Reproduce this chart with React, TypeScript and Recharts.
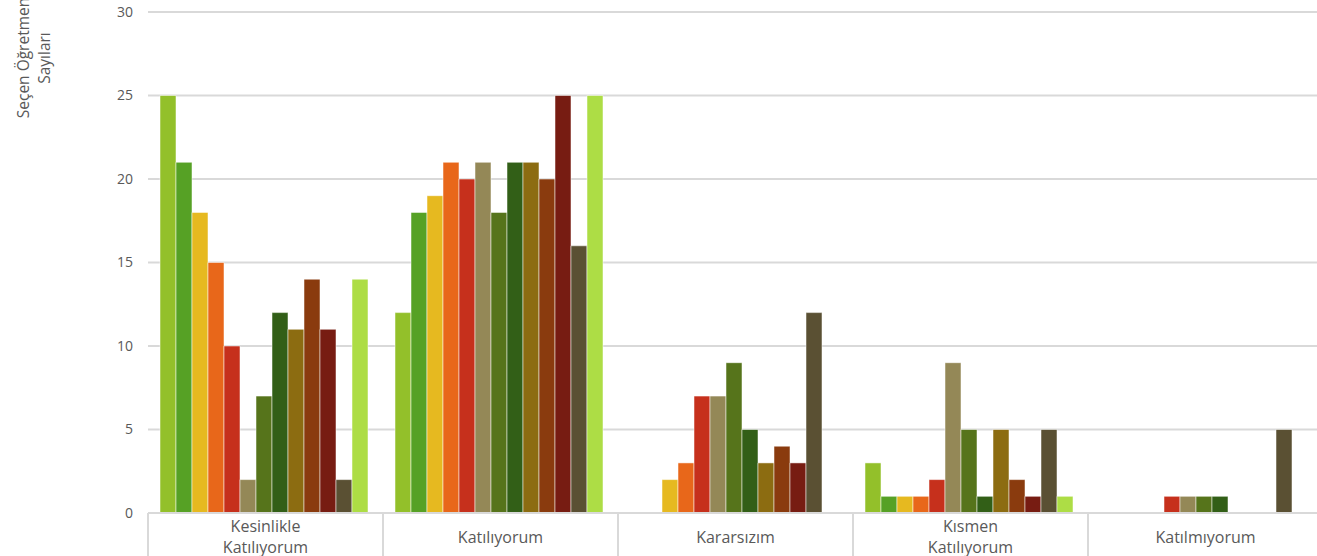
import React from "react";
import { BarChart, Bar, XAxis, YAxis, CartesianGrid } from "recharts";

const categories = [
  "Kesinlikle Katılıyorum",
  "Katılıyorum",
  "Kararsızım",
  "Kısmen Katılıyorum",
  "Katılmıyorum",
];

// one array per answer, 13 items each (left to right)
const kesinlikleKatiliyorum = [25, 21, 18, 15, 10, 2, 7, 12, 11, 14, 11, 2, 14];
const katiliyorum = [12, 18, 19, 21, 20, 21, 18, 21, 21, 20, 25, 16, 25];
const kararsizim = [0, 0, 2, 3, 7, 7, 9, 5, 3, 4, 3, 12, 0];
const kismenKatiliyorum = [3, 1, 1, 1, 2, 9, 5, 1, 5, 2, 1, 5, 1];
const katilmiyorum = [0, 0, 0, 0, 1, 1, 1, 1, 0, 0, 0, 5, 0];

const yTicks = [0, 5, 10, 15, 20, 25, 30];

const COLORS = [
  "#93c02a",
  "#56a125",
  "#e6b920",
  "#e8671a",
  "#c6301c",
  "#948857",
  "#56741b",
  "#325f17",
  "#8c6c11",
  "#8a3b0e",
  "#771c12",
  "#5a5033",
  "#addd45",
];

const valuesByCategory = [
  kesinlikleKatiliyorum,
  katiliyorum,
  kararsizim,
  kismenKatiliyorum,
  katilmiyorum,
];

const seriesKeys = COLORS.map((_c, i) => `m${i + 1}`);

const data = categories.map((name, ci) => {
  const row: Record<string, string | number> = { name };
  seriesKeys.forEach((k, si) => {
    row[k] = valuesByCategory[ci][si];
  });
  return row;
});

const CHART_W = 1323;
const CHART_H = 556;
const Y_AXIS_W = 148;
const X_AXIS_H = 43;
const BAND = (CHART_W - Y_AXIS_W) / categories.length;
const FONT = "'Open Sans', 'DejaVu Sans', sans-serif";
const TEXT = "#595959";
const GRID = "#d9d9d9";

function CategoryTick(props: any) {
  const { x, y, payload } = props;
  const lines = String(payload.value).split(" ");
  const lh = 21;
  return (
    <g>
      <line x1={x - BAND / 2} x2={x - BAND / 2} y1={y} y2={y + X_AXIS_H} stroke={GRID} strokeWidth={2} />
      {lines.map((l, i) => (
        <text
          key={i}
          x={x}
          y={y + 23.5 + (i - (lines.length - 1) / 2) * lh}
          textAnchor="middle"
          dominantBaseline="central"
          fontSize={16}
          fontFamily={FONT}
          fill={TEXT}
        >
          {l}
        </text>
      ))}
    </g>
  );
}

function YLabel() {
  return (
    <g fontFamily={FONT} fontSize={15.5} fill={TEXT}>
      <text transform="translate(23, 58) rotate(-90)" textAnchor="middle" dominantBaseline="central">
        Seçen Öğretmen
      </text>
      <text transform="translate(44, 58) rotate(-90)" textAnchor="middle" dominantBaseline="central">
        Sayıları
      </text>
    </g>
  );
}

export default function App() {
  return (
    <div
      style={{
        position: "fixed",
        left: 0,
        top: 0,
        width: 1317,
        height: CHART_H,
        overflow: "hidden",
        background: "#fff",
      }}
    >
      <BarChart
        width={CHART_W}
        height={CHART_H}
        data={data}
        margin={{ top: 12, right: 0, bottom: 0, left: 0 }}
        barGap={0}
        barCategoryGap={12}
      >
        <CartesianGrid vertical={false} stroke={GRID} strokeWidth={2} />
        <XAxis
          dataKey="name"
          height={X_AXIS_H}
          axisLine={{ stroke: GRID, strokeWidth: 2 }}
          tickLine={false}
          tickSize={0}
          tickMargin={0}
          interval={0}
          tick={<CategoryTick />}
        />
        <YAxis
          width={Y_AXIS_W}
          domain={[0, 30]}
          ticks={yTicks}
          axisLine={false}
          tickLine={false}
          tickMargin={9}
          tick={{ fontSize: 14, fill: TEXT, fontFamily: FONT }}
          label={<YLabel />}
        />
        {seriesKeys.map((k, i) => (
          <Bar
            key={k}
            dataKey={k}
            fill={COLORS[i]}
            stroke="#ffffff"
            strokeOpacity={0.5}
            strokeWidth={1}
            isAnimationActive={false}
          />
        ))}
      </BarChart>
    </div>
  );
}
